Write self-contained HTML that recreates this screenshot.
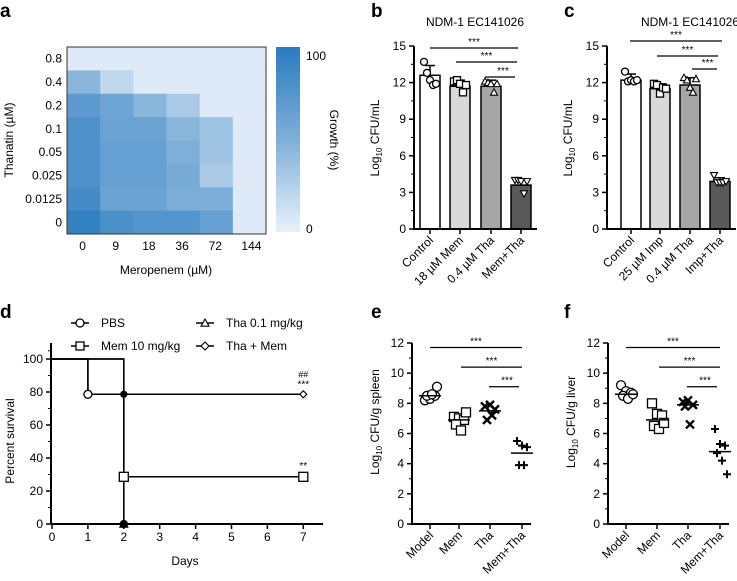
<!DOCTYPE html>
<html><head><meta charset="utf-8"><style>
body{margin:0;background:#fff}
svg{display:block;font-family:"Liberation Sans",sans-serif}
</style></head><body>
<svg id="fig" width="737" height="581" viewBox="0 0 737 581" xmlns="http://www.w3.org/2000/svg">
<defs><linearGradient id="cbar" x1="0" y1="1" x2="0" y2="0"><stop offset="0" stop-color="#e8f1fb"/><stop offset="0.5" stop-color="#7fafd9"/><stop offset="1" stop-color="#2a7bc0"/></linearGradient></defs>
<g font-weight="bold" font-size="19">
<text x="0" y="17">a</text>
<text x="371" y="17">b</text>
<text x="564" y="17">c</text>
<text x="0" y="318">d</text>
<text x="371" y="318">e</text>
<text x="564" y="318">f</text>
</g>
<g id="pa"></g>
<g id="pb"></g>
<g id="pc"></g>
<g id="pd"></g>
<g id="pe"></g>
<g id="pf"></g>
</svg>
<script>
// ---- data ----
const heatCols = ["0","9","18","36","72","144"];
const heatRows = ["0.8","0.4","0.2","0.1","0.05","0.025","0.0125","0"];
const heatVals = [
 [5,5,5,5,5,5],
 [45,20,5,5,5,5],
 [70,60,45,30,5,5],
 [78,62,62,45,35,5],
 [78,65,65,50,35,5],
 [78,65,65,55,30,5],
 [85,62,62,52,52,5],
 [95,80,75,75,65,5]];
const bCats = ["Control","18 µM Mem","0.4 µM Tha","Mem+Tha"];
const bMeans = [12.6,11.7,11.7,3.6];
const bErr = [0.8,0.5,0.5,0.5];
const bPts = [[13.7,12.8,12.2,11.8,11.9],[12.1,12.2,11.9,11.2,11.8],[12.1,12.0,11.9,11.2,11.9],[4.0,4.0,3.9,2.9,3.9]];
const cCats = ["Control","25 µM Imp","0.4 µM Tha","Imp+Tha"];
const cMeans = [12.2,11.5,11.8,3.9];
const cErr = [0.5,0.4,0.6,0.3];
const cPts = [[12.9,12.1,12.2,12.1,12.2],[11.9,11.8,11.1,11.6,11.5],[12.4,12.2,11.6,11.2,12.3],[4.4,3.8,3.8,3.8,3.9]];
const sDays = [0,1,2,3,4,5,6,7];
const sPBS = [[0,100],[1,100],[1,78.6],[2,78.6],[2,0]];
const sMem = [[0,100],[2,100],[2,28.6],[7,28.6]];
const sTha = [[0,100],[2,100],[2,0]];
const sCombo = [[0,100],[1,100],[1,78.6],[7,78.6]];
const eCats = ["Model","Mem","Tha","Mem+Tha"];
const ePts = [[8.2,8.3,8.5,8.5,8.6,9.1],[7.1,7.0,6.9,6.6,6.2,7.4],[7.8,7.9,7.6,6.9,7.2],[5.5,5.2,5.1,3.9,3.9]];
const eMeans = [8.5,6.9,7.5,4.7];
const fPts = [[9.2,8.8,8.7,8.5,8.3,8.6],[8.0,7.3,7.2,6.5,6.3,6.7],[8.1,8.2,7.9,7.8,6.6],[6.3,5.3,5.2,4.7,4.2,3.3]];
const fMeans = [8.6,6.9,7.9,4.8];
const markers = ["circle","square","x","plus"];

const NS="http://www.w3.org/2000/svg";
function mk(p,t,a,txt){const e=document.createElementNS(NS,t);for(const k in a)e.setAttribute(k,a[k]);if(txt!=null)e.textContent=txt;p.appendChild(e);return e;}
function lerp(a,b,t){return Math.round(a+(b-a)*t);}
function heatColor(v){const t=v/100;const c0=[232,241,251],c1=[127,175,217],c2=[42,123,192];
 let r,g,b;if(t<0.5){const u=t/0.5;r=lerp(c0[0],c1[0],u);g=lerp(c0[1],c1[1],u);b=lerp(c0[2],c1[2],u);}else{const u=(t-0.5)/0.5;r=lerp(c1[0],c2[0],u);g=lerp(c1[1],c2[1],u);b=lerp(c1[2],c2[2],u);}return `rgb(${r},${g},${b})`;}

// ---- panel a ----
(function(){
 const g=document.getElementById('pa');const x0=67,y0=47,W=199,H=187;
 const cw=W/heatCols.length,ch=H/heatRows.length;
 heatVals.forEach((row,i)=>row.forEach((v,j)=>{
  const r=mk(g,'rect',{x:x0+j*cw,y:y0+i*ch,width:cw+0.5,height:ch+0.5,fill:heatColor(v)});
  
  
 }));
 mk(g,'rect',{x:x0,y:y0,width:W,height:H,fill:'none',stroke:'#333','stroke-width':1});
 heatRows.forEach((l,i)=>{const t=mk(g,'text',{x:x0-5,y:y0+i*ch+ch/2+4,'text-anchor':'end','font-size':12},l);
  });
 heatCols.forEach((l,j)=>{const t=mk(g,'text',{x:x0+j*cw+cw/2+(j==5?2:-1),y:y0+H+16,'text-anchor':'middle','font-size':12},l);
  });
 mk(g,'text',{x:166,y:274,'text-anchor':'middle','font-size':12,},'Meropenem (µM)');
 mk(g,'text',{transform:'translate(13,140) rotate(-90)','text-anchor':'middle','font-size':12,},'Thanatin (µM)');
 mk(g,'rect',{x:276,y:47,width:24,height:185,fill:'url(#cbar)',});
 mk(g,'text',{x:306,y:60,'font-size':12,},'100');
 mk(g,'text',{x:306,y:233,'font-size':12,},'0');
 mk(g,'text',{transform:'translate(330,140) rotate(90)','text-anchor':'middle','font-size':12,},'Growth (%)');
})();

function sigBars(g,yOf,xs,lines){
 lines.forEach(([x1,x2,v])=>{const y=yOf(v);
  mk(g,'line',{x1:x1,x2:x2,y1:y,y2:y,stroke:'#000','stroke-width':1.3,});
  mk(g,'text',{x:(x1+x2)/2+ (x2-x1>60?0:3),y:y-3,'text-anchor':'middle','font-size':10,},'***');});
}
function marker(g,type,x,y,s,fill){
 let e;
 if(type==='circle')e=mk(g,'circle',{cx:x,cy:y,r:s,fill:fill||'none',stroke:'#000','stroke-width':1.3});
 else if(type==='square')e=mk(g,'rect',{x:x-s,y:y-s,width:2*s,height:2*s,fill:fill||'none',stroke:'#000','stroke-width':1.3});
 else if(type==='triangle')e=mk(g,'polygon',{points:`${x},${y-s} ${x-s},${y+s*0.8} ${x+s},${y+s*0.8}`,fill:fill||'none',stroke:'#000','stroke-width':1.1});
 else if(type==='tridown')e=mk(g,'polygon',{points:`${x},${y+s} ${x-s},${y-s*0.8} ${x+s},${y-s*0.8}`,fill:fill||'none',stroke:'#000','stroke-width':1.1});
 else if(type==='diamond')e=mk(g,'polygon',{points:`${x},${y-s} ${x+s},${y} ${x},${y+s} ${x-s},${y}`,fill:fill||'none',stroke:'#000','stroke-width':1.1});
 else if(type==='x')e=mk(g,'path',{d:`M${x-s},${y-s}L${x+s},${y+s}M${x-s},${y+s}L${x+s},${y-s}`,stroke:'#000','stroke-width':2.4});
 else e=mk(g,'path',{d:`M${x-s},${y}L${x+s},${y}M${x},${y-s}L${x},${y+s}`,stroke:'#000','stroke-width':2});
 
 
 return e;
}
function axisY(g,ax,yOf,ticks,minor,top,bot,fs){
 mk(g,'line',{x1:ax,x2:ax,y1:top,y2:bot,stroke:'#000','stroke-width':2,});
 ticks.forEach(v=>{mk(g,'line',{x1:ax-5,x2:ax,y1:yOf(v),y2:yOf(v),stroke:'#000','stroke-width':1.5});
  const t=mk(g,'text',{x:ax-8,y:yOf(v)+4,'text-anchor':'end','font-size':fs||12},String(v));
  });
 minor.forEach(v=>mk(g,'line',{x1:ax-3,x2:ax,y1:yOf(v),y2:yOf(v),stroke:'#000','stroke-width':1}));
}
function rotLabels(g,cats,xs,y){
 cats.forEach((c,i)=>{const t=mk(g,'text',{transform:`translate(${xs[i]+4},${y}) rotate(-45)`,'text-anchor':'end','font-size':12},c);
  });
}
function ylab(g,x,y,base,rest){
 const t=mk(g,'text',{transform:`translate(${x},${y}) rotate(-90)`,'text-anchor':'middle','font-size':12});
 
 mk(t,'tspan',{},'Log');mk(t,'tspan',{'font-size':8,dy:3},'10');mk(t,'tspan',{dy:-3},' '+rest);
}

// ---- bar panels ----
function barPanel(id,ax,xs,cats,means,errs,pts,title,tx,sig){
 const g=document.getElementById(id);const y0=229,y15=46;
 const yOf=v=>y0-(v/15)*(y0-y15);
 const fills=['#fff','#d9d9d9','#a6a6a6','#595959'];const mks=['circle','square','triangle','tridown'];
 means.forEach((m,i)=>{
  const r=mk(g,'rect',{x:xs[i]-10,y:yOf(m),width:20,height:y0-yOf(m),fill:fills[i],stroke:'#000','stroke-width':1.5});
  
  
  mk(g,'line',{x1:xs[i],x2:xs[i],y1:yOf(m),y2:yOf(m+errs[i]),stroke:'#000','stroke-width':1.5});
  mk(g,'line',{x1:xs[i]-5,x2:xs[i]+5,y1:yOf(m+errs[i]),y2:yOf(m+errs[i]),stroke:'#000','stroke-width':1.5});
  pts[i].forEach((v,k)=>marker(g,mks[i],xs[i]-6+k*3,yOf(v),3.5,'#fff'));
 });
 axisY(g,ax,yOf,[0,3,6,9,12,15],[1.5,4.5,7.5,10.5,13.5],y15,y0+1);
 mk(g,'line',{x1:ax,x2:xs[3]+16,y1:y0,y2:y0,stroke:'#000','stroke-width':2,});
 xs.forEach(x=>mk(g,'line',{x1:x,x2:x,y1:y0,y2:y0+5,stroke:'#000','stroke-width':1.5}));
 rotLabels(g,cats,xs,y0+12);
 mk(g,'text',{x:tx,y:26,'text-anchor':'middle','font-size':12,},title);
 ylab(g,ax-35,138,'Log','CFU/mL');
 sigBars(g,v=>v,xs,sig);
}
barPanel('pb',414,[430,460,491,521],bCats,bMeans,bErr,bPts,'NDM-1 EC141026',475,[[430,518,48],[456,517,62],[485,515,77]]);
barPanel('pc',607,[631,660,690,720],cCats,cMeans,cErr,cPts,'NDM-1 EC141026',690,[[630,722,41],[657,718,56],[692,717,69]]);

// ---- panel d ----
(function(){
 const g=document.getElementById('pd');const x0=52,dx=35.9,y0=524,yh=359;
 const X=d=>x0+d*dx,Y=v=>y0-(v/100)*(y0-yh);
 mk(g,'line',{x1:51,x2:51,y1:343,y2:y0,stroke:'#000','stroke-width':2,});
 [0,20,40,60,80,100].forEach(v=>{mk(g,'line',{x1:46,x2:51,y1:Y(v),y2:Y(v),stroke:'#000','stroke-width':1.5});
  const t=mk(g,'text',{x:43,y:Y(v)+4,'text-anchor':'end','font-size':12},String(v));});
 [10,30,50,70,90,105].forEach(v=>mk(g,'line',{x1:48,x2:51,y1:Y(v),y2:Y(v),stroke:'#000','stroke-width':1}));
 mk(g,'line',{x1:51,x2:323,y1:y0,y2:y0,stroke:'#000','stroke-width':2,});
 sDays.forEach(d=>{mk(g,'line',{x1:X(d),x2:X(d),y1:y0,y2:y0+5,stroke:'#000','stroke-width':1.5});
  const t=mk(g,'text',{x:X(d),y:y0+17,'text-anchor':'middle','font-size':12},String(d));});
 mk(g,'text',{x:185,y:565,'text-anchor':'middle','font-size':12,},'Days');
 mk(g,'text',{transform:'translate(14,441) rotate(-90)','text-anchor':'middle','font-size':12,},'Percent survival');
 [[sPBS,'pbs'],[sMem,'mem'],[sTha,'tha'],[sCombo,'tha-mem']].forEach(([s,n])=>{
  const p=mk(g,'polyline',{points:s.map(q=>X(q[0])+','+Y(q[1])).join(' '),fill:'none',stroke:'#000','stroke-width':1.5});
  });
 marker(g,'circle',X(1),Y(78.6),4,'#fff');
 marker(g,'circle',X(2),Y(78.6),3,'#000');
 marker(g,'square',X(2),Y(28.6),4.5,'#fff');
 marker(g,'square',X(7),Y(28.6),4.5,'#fff');
 marker(g,'diamond',X(7),Y(78.6),3.5,'#fff');
 marker(g,'circle',X(2),Y(0),3.5,'#000');
 marker(g,'triangle',X(2),Y(0),4,'#000');
 mk(g,'text',{x:X(7),y:Y(78.6)-17,'text-anchor':'middle','font-size':9},'##');
 mk(g,'text',{x:X(7),y:Y(78.6)-7,'text-anchor':'middle','font-size':10},'***');
 mk(g,'text',{x:X(7),y:Y(28.6)-8,'text-anchor':'middle','font-size':10},'**');
 const leg=[[80,323,'circle','PBS'],[205,323,'triangle','Tha 0.1 mg/kg'],[80,346,'square','Mem 10 mg/kg'],[205,346,'diamond','Tha + Mem']];
 leg.forEach(([x,y,m,l])=>{const lg=mk(g,'g',{});
  mk(lg,'line',{x1:x-9,x2:x+9,y1:y,y2:y,stroke:'#000','stroke-width':1.5});marker(lg,m,x,y,4,'#fff');
  mk(lg,'text',{x:x+21,y:y+4,'font-size':12},l);});
})();

// ---- scatter panels ----
function scatterPanel(id,ax,xs,pts,means,name){
 const g=document.getElementById(id);const y0=524,y12=343;
 const yOf=v=>y0-(v/12)*(y0-y12);
 axisY(g,ax,yOf,[0,2,4,6,8,10,12],[1,3,5,7,9,11],y12,y0+1);
 mk(g,'line',{x1:ax,x2:xs[3]+9,y1:y0,y2:y0,stroke:'#000','stroke-width':2,});
 xs.forEach(x=>mk(g,'line',{x1:x,x2:x,y1:y0,y2:y0+5,stroke:'#000','stroke-width':1.5}));
 pts.forEach((arr,i)=>{
  arr.forEach((v,k)=>{const off=((k%3)-1)*5+(k>2?2:0);marker(g,markers[i],xs[i]+off,yOf(v),i<2?4.5:4,i<2?'#fff':null);});
  const m=mk(g,'line',{x1:xs[i]-11,x2:xs[i]+11,y1:yOf(means[i]),y2:yOf(means[i]),stroke:'#000','stroke-width':1.5});
  
 });
 rotLabels(g,eCats,xs,y0+12);
 ylab(g,ax-33,422,'Log','CFU/g '+name);
 sigBars(g,yOf,xs,[[xs[0],xs[3],11.7],[xs[1]+2,xs[3],10.4],[xs[2]-1,xs[3]-3,9.1]]);
}
scatterPanel('pe',412,[430,459,490,522],ePts,eMeans,'spleen');
scatterPanel('pf',608,[626,657,688,720],fPts,fMeans,'liver');
</script>
</body></html>
